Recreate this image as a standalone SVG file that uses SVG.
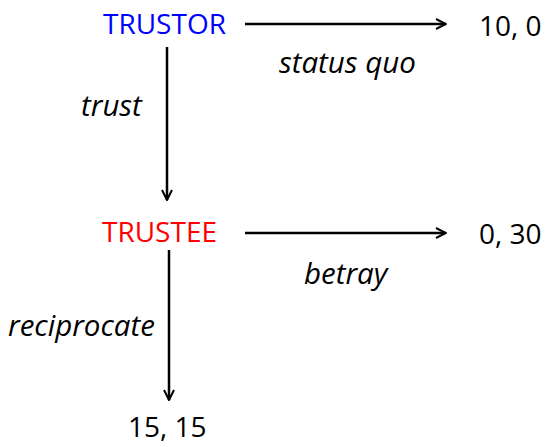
<svg xmlns="http://www.w3.org/2000/svg" width="546" height="447" viewBox="0 0 546 447">
<style>
text{font-family:"Open Sans","Liberation Sans",sans-serif;font-size:28px;fill:#000}
.lbl{font-style:italic;font-size:29.5px}
.c line{stroke:#000;stroke-width:2.5;fill:none}
</style>
<defs>
<marker id="ah" viewBox="0 0 12 12" refX="11" refY="6" markerWidth="12" markerHeight="12" markerUnits="userSpaceOnUse" orient="auto">
<path d="M1,1 L11,6 L1,11" fill="none" stroke="#000" stroke-width="2"/>
</marker>
</defs>
<rect width="546" height="447" fill="#fff"/>
<g class="c" id="connectors">
<line x1="245" y1="24" x2="446" y2="24" marker-end="url(#ah)"/>
<line x1="167" y1="47" x2="167" y2="200" marker-end="url(#ah)"/>
<line x1="245" y1="233" x2="446" y2="233" marker-end="url(#ah)"/>
<line x1="169" y1="250" x2="169" y2="400" marker-end="url(#ah)"/>
</g>
<g id="trustor"><text x="103" y="34" style="fill:#0000ff">TRUSTOR</text></g>
<g id="out1"><text x="479" y="36">10, 0</text></g>
<g id="trustee"><text x="102" y="242" style="fill:#ff0000">TRUSTEE</text></g>
<g id="out2"><text x="479" y="244">0, 30</text></g>
<g id="out3"><text x="128" y="437">15, 15</text></g>
<text class="lbl" x="279" y="73">status quo</text>
<text class="lbl" x="81" y="116">trust</text>
<text class="lbl" x="304" y="284">betray</text>
<text class="lbl" x="8" y="336">reciprocate</text>
</svg>
